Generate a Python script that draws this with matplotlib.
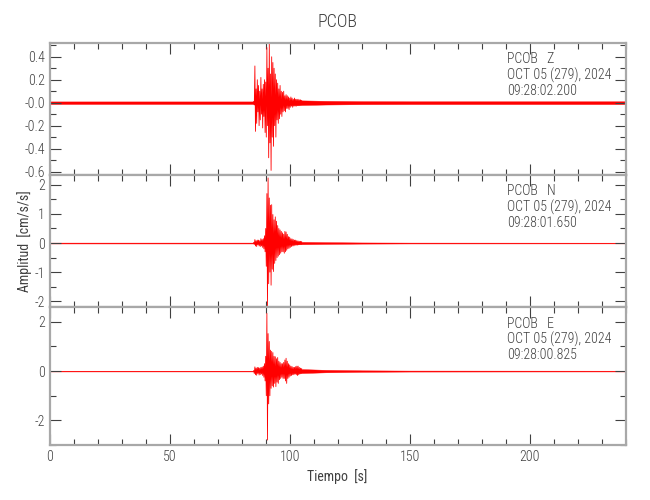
import numpy as np
import matplotlib
matplotlib.use("Agg")
import matplotlib.pyplot as plt
from matplotlib.ticker import MultipleLocator, FixedLocator, FixedFormatter

plt.rcParams["font.family"] = ["Roboto Condensed", "Archivo Narrow",
                               "PT Sans Narrow", "DejaVu Sans"]
plt.rcParams["font.weight"] = "light"

station = "PCOB"
components = ["Z", "N", "E"]
start_times = ["09:28:02.200", "09:28:01.650", "09:28:00.825"]
date_label = "OCT 05 (279), 2024"

# background noise envelope
noise_t = [0, 85, 105, 115, 130, 150, 240]
noise_z = [0.011, 0.011, 0.02, 0.016, 0.013, 0.012, 0.012]
noise_n = [0.015, 0.015, 0.04, 0.03, 0.02, 0.015, 0.012]
noise_e = [0.015, 0.015, 0.08, 0.05, 0.03, 0.02, 0.015]

# event window, samples every 0.25 s starting at 85 s
event_start = 85.0
event_dt = 0.25
trace_z = [0.01, -0.02, 0.32, -0.25, 0.12, -0.18, 0.2, -0.08, 0.15, -0.2,
           0.1, -0.15, 0.22, -0.1, 0.12, -0.22, 0.16, -0.12, 0.2, -0.26,
           0.18, -0.3, 0.48, -0.2, 0.3, -0.48, 0.52, -0.35, 0.25, -0.59,
           0.4, -0.3, 0.35, -0.38, 0.3, -0.2, 0.25, -0.3, 0.2, -0.15,
           0.17, -0.18, 0.12, -0.14, 0.15, -0.1, 0.1, -0.12, 0.09, -0.08,
           0.1, -0.07, 0.06, -0.08, 0.07, -0.05, 0.06, -0.05, 0.05, -0.06,
           0.04, -0.04, 0.05, -0.03, 0.04, -0.04, 0.03, -0.03, 0.04, -0.03,
           0.03, -0.03, 0.03, -0.025, 0.03, -0.025, 0.025, -0.025, 0.025, -0.02,
           0.02]
trace_n = [0.02, -0.05, 0.12, -0.1, 0.08, -0.12, 0.1, -0.06, 0.1, -0.1,
           0.08, -0.12, 0.15, -0.1, 0.12, -0.15, 0.15, -0.2, 0.25, -0.3,
           0.5, -0.8, 1.7, -2.2, 2.24, -1.4, 1.55, -1.0, 1.3, -1.45,
           1.32, -0.9, 0.98, -0.98, 0.8, -0.7, 0.9, -0.6, 0.75, -0.5,
           0.6, -0.45, 0.5, -0.4, 0.45, -0.35, 0.4, -0.3, 0.35, -0.3,
           0.3, -0.35, 0.4, -0.3, 0.38, -0.25, 0.3, -0.2, 0.22, -0.18,
           0.2, -0.15, 0.15, -0.12, 0.14, -0.1, 0.12, -0.1, 0.1, -0.08,
           0.1, -0.07, 0.08, -0.07, 0.07, -0.06, 0.06, -0.05, 0.06, -0.05,
           0.05]
trace_e = [0.02, -0.1, 0.17, -0.15, 0.12, -0.17, 0.15, -0.1, 0.14, -0.16,
           0.12, -0.14, 0.15, -0.12, 0.16, -0.18, 0.2, -0.25, 0.3, -0.4,
           0.6, -1.0, 2.34, -2.8, 1.52, -1.33, 1.2, -1.0, 0.85, -0.7,
           0.8, -0.6, 0.75, -0.65, 0.6, -0.5, 0.58, -0.63, 0.5, -0.45,
           0.55, -0.5, 0.4, -0.35, 0.35, -0.3, 0.3, -0.25, 0.3, -0.3,
           0.35, -0.3, 0.45, -0.4, 0.52, -0.5, 0.4, -0.3, 0.3, -0.25,
           0.25, -0.2, 0.2, -0.18, 0.18, -0.15, 0.15, -0.15, 0.15, -0.12,
           0.18, -0.15, 0.2, -0.18, 0.2, -0.15, 0.15, -0.12, 0.12, -0.1,
           0.1]

noises = [noise_z, noise_n, noise_e]
traces = [trace_z, trace_n, trace_e]
ylims = [(-0.63, 0.52), (-2.2, 2.34), (-3.0, 2.6)]
yticks = [[0.4, 0.2, 0.0, -0.2, -0.4, -0.6], [2, 1, 0, -1, -2], [2, 0, -2]]
yticklabels = [["0.4", "0.2", "-0.0", "-0.2", "-0.4", "-0.6"],
               ["2", "1", "0", "-1", "-2"],
               ["2", "0", "-2"]]
yminor = [0.1, 0.5, 1.0]
xticks = [0, 50, 100, 150, 200]

axis_gray = "#a8a8a8"
text_gray = "#404040"
red = "#ff0000"

fig = plt.figure(figsize=(6.5, 5), dpi=100)
left, width = 0.0765, 0.886
bottoms = [0.65, 0.386, 0.11]
heights = [0.264, 0.264, 0.276]

for i in range(3):
    ax = fig.add_axes([left, bottoms[i], width, heights[i]])
    nz = np.array(noises[i])
    ax.fill_between(noise_t, -nz, nz, color=red, linewidth=0.3)
    tr = np.array(traces[i])
    t = event_start + event_dt * np.arange(len(tr))
    ax.plot(t, tr, color=red, linewidth=0.6)

    ax.set_xlim(0, 240)
    ax.set_ylim(*ylims[i])
    ax.xaxis.set_major_locator(FixedLocator(xticks))
    ax.xaxis.set_minor_locator(MultipleLocator(10))
    ax.yaxis.set_major_locator(FixedLocator(yticks[i]))
    ax.yaxis.set_major_formatter(FixedFormatter(yticklabels[i]))
    ax.yaxis.set_minor_locator(MultipleLocator(yminor[i]))
    ax.tick_params(which="both", direction="in", top=True, right=True,
                   color=text_gray, labelcolor=text_gray, labelsize=10,
                   width=0.8)
    ax.tick_params(which="major", length=8)
    ax.tick_params(which="minor", length=4)
    if i < 2:
        ax.tick_params(labelbottom=False)
    for sp in ax.spines.values():
        sp.set_color(axis_gray)
        sp.set_linewidth(1.6)

    ax.text(0.794, 0.93,
            f"{station}   {components[i]}\n{date_label}\n{start_times[i]}",
            transform=ax.transAxes, ha="left", va="top", fontsize=10,
            color=text_gray, linespacing=1.1)

    if i == 2:
        ax.set_xlabel("Tiempo  [s]", fontsize=10, color=text_gray, labelpad=4)
    if i == 1:
        ax.set_ylabel("Amplitud  [cm/s/s]", fontsize=10, color=text_gray)
        ax.yaxis.set_label_coords(-0.03, 0.5)

fig.text(left + width / 2, 0.956, station, ha="center", va="center",
         fontsize=13, color=text_gray)

fig.savefig("out.png", dpi=100)
